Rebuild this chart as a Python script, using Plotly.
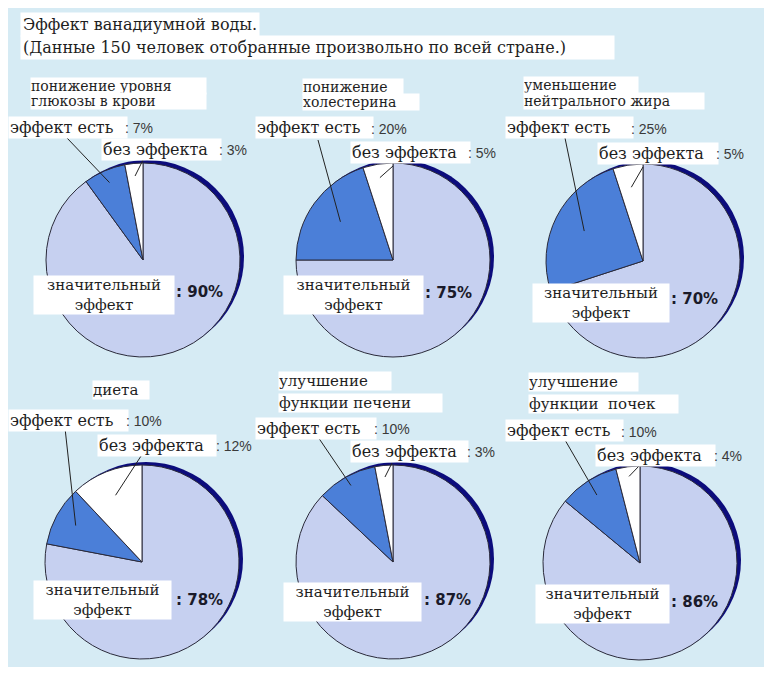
import math
import plotly.graph_objects as go

# page is photographed with the default 8px body margin -> figure starts at (8, 8)
OFF = 8
FW, FH = 764, 666

# ---------------- data ----------------
slice_names = ["значительный эффект", "эффект есть", "без эффекта"]
titles = [
    ["понижение уровня", "глюкозы в крови"],
    ["понижение", "холестерина"],
    ["уменьшение", "нейтрального жира"],
    ["диета"],
    ["улучшение", "функции печени"],
    ["улучшение", "функции  почек"],
]
significant = [90, 75, 70, 78, 87, 86]
effect = [7, 20, 25, 10, 10, 10]
no_effect = [3, 5, 5, 12, 3, 4]

main_title = "Эффект ванадиумной воды."
sub_title = "(Данные 150 человек отобранные произвольно по всей стране.)"

# ---------------- layout (page pixel positions) ----------------
R = 97
layout_px = [
    dict(c=(143, 260), tsize=14,
         title=[(30, 86, 175), (30, 101, 175)],
         eff=(8, 127, 116), effpct=(124, 128),
         noeff=(101, 149, 117), noeffpct=(218, 150),
         big=(33, 295, 140), bigpct=(175, 292),
         eff_lead=(67, 138), noeff_lead=(144, 158), eff_r=0.87, noeff_r=0.87),
    dict(c=(393, 260), tsize=14,
         title=[(302, 87, 100), (302, 102, 116)],
         eff=(255, 128, 115), effpct=(370, 129),
         noeff=(350, 152, 117), noeffpct=(467, 153),
         big=(283, 295, 139), bigpct=(424, 293),
         eff_lead=(318, 140), noeff_lead=(393, 166), eff_r=0.67, noeff_r=0.86),
    dict(c=(643, 261), tsize=14,
         title=[(523, 85, 114), (523, 101, 180)],
         eff=(505, 128, 125), effpct=(630, 129),
         noeff=(597, 153, 118), noeffpct=(715, 154),
         big=(532, 303, 136), bigpct=(670, 299),
         eff_lead=(565, 138), noeff_lead=(643, 167), eff_r=0.68, noeff_r=0.77),
    dict(c=(142, 562), tsize=15,
         title=[(92, 390, 56)],
         eff=(8, 420, 117), effpct=(125, 421),
         noeff=(97, 445, 116), noeffpct=(215, 446),
         big=(33, 600, 137), bigpct=(175, 600),
         eff_lead=(65, 428), noeff_lead=(143, 453), eff_r=0.78, noeff_r=0.74),
    dict(c=(393, 562), tsize=15,
         title=[(278, 381, 112), (278, 403, 163)],
         eff=(255, 428, 118), effpct=(373, 429),
         noeff=(350, 451, 115), noeffpct=(466, 452),
         big=(283, 602, 137), bigpct=(423, 600),
         eff_lead=(318, 437), noeff_lead=(392, 463), eff_r=0.9, noeff_r=0.88),
    dict(c=(640, 563), tsize=15,
         title=[(528, 382, 109), (528, 404, 149)],
         eff=(505, 431, 115), effpct=(620, 432),
         noeff=(595, 455, 117), noeffpct=(713, 456),
         big=(535, 604, 133), bigpct=(670, 602),
         eff_lead=(565, 440), noeff_lead=(639, 466), eff_r=0.83, noeff_r=0.9),
]

C_LIGHT = "#c6d0f0"
C_BLUE = "#4b7fd8"
C_WHITE = "#ffffff"
C_NAVY = "#0c0c7c"
C_PANEL = "#d6ebf4"
SERIF = "DejaVu Serif"
SANS = "Liberation Sans"
TXT = "#1e1e1e"


def px(x):
    return (x - OFF) / FW


def py(y):
    return 1 - (y - OFF) / FH


fig = go.Figure()
shapes = []
annotations = []

# panel background
shapes.append(dict(type="rect", xref="paper", yref="paper", layer="below",
                   x0=px(8), x1=px(766), y0=py(667), y1=py(8),
                   fillcolor=C_PANEL, line=dict(width=0)))


def label(x, y, text, size=16, font=SERIF, color=TXT, bg="white", width=None,
          xanchor="left", align="left", pad=1):
    a = dict(x=px(x), y=py(y), xref="paper", yref="paper", text=text,
             showarrow=False, xanchor=xanchor, yanchor="middle", align=align,
             font=dict(family=font, size=size, color=color),
             bgcolor=bg, borderpad=pad)
    if width is not None:
        a["width"] = width
    annotations.append(a)


for i, L in enumerate(layout_px):
    cx, cy = L["c"]
    vals = [significant[i], effect[i], no_effect[i]]
    # shadow crescent (offset navy disc behind the pie)
    dx, dy = 4, -3
    shapes.append(dict(type="circle", xref="paper", yref="paper", layer="below",
                       x0=px(cx - R + dx), x1=px(cx + R + dx),
                       y0=py(cy + R + dy), y1=py(cy - R + dy),
                       fillcolor=C_NAVY, line=dict(width=0)))
    fig.add_trace(go.Pie(
        values=vals, labels=slice_names, sort=False, direction="clockwise", rotation=0,
        marker=dict(colors=[C_LIGHT, C_BLUE, C_WHITE], line=dict(color="#2a2a3a", width=1)),
        textinfo="none", hoverinfo="label+percent", showlegend=False,
        domain=dict(x=[px(cx - R), px(cx + R)], y=[py(cy + R), py(cy - R)]),
    ))

    # leader lines pointing into slices (end point from slice mid-angle)
    total = sum(vals)
    mid_eff = vals[0] / total * 360 + vals[1] / total * 180
    mid_no = (vals[0] + vals[1]) / total * 360 + vals[2] / total * 180
    for (sx, sy), ang, rf in [(L["eff_lead"], mid_eff, L["eff_r"]),
                              (L["noeff_lead"], mid_no, L["noeff_r"])]:
        a = math.radians(ang)
        ex = cx + rf * R * math.sin(a)
        ey = cy - rf * R * math.cos(a)
        shapes.append(dict(type="line", xref="paper", yref="paper", layer="above",
                           x0=px(sx), y0=py(sy), x1=px(ex), y1=py(ey),
                           line=dict(color="#222", width=1)))

    # titles (one white box per line)
    for (tx, ty, tw), line in zip(L["title"], titles[i]):
        label(tx, ty, line, size=L["tsize"], width=tw, pad=0)

    # effect labels
    x0, y0, w0 = L["eff"]
    label(x0, y0, "эффект есть", width=w0)
    label(L["effpct"][0], L["effpct"][1], f": {effect[i]}%", size=14, font=SANS,
          color="#3a3a3a", bg="rgba(0,0,0,0)", pad=0)
    x0, y0, w0 = L["noeff"]
    label(x0, y0, "без эффекта", width=w0)
    label(L["noeffpct"][0], L["noeffpct"][1], f": {no_effect[i]}%", size=14, font=SANS,
          color="#3a3a3a", bg="rgba(0,0,0,0)", pad=0)

    # big slice label, two lines in one white box
    bx, by, bw = L["big"]
    label(bx, by, "значительный<br>эффект", size=15, width=bw, align="center", pad=0)
    bpx, bpy = L["bigpct"]
    label(bpx, bpy, f"<b>: {significant[i]}%</b>", font="DejaVu Sans", size=15,
          color="#1a1a2a", bg="rgba(0,0,0,0)", pad=0)

# main titles
label(20, 24, main_title, size=16, pad=2)
label(20, 48, sub_title, size=16, width=589, pad=2)

fig.update_layout(
    width=FW, height=FH, margin=dict(l=0, r=0, t=0, b=0),
    paper_bgcolor="white", plot_bgcolor="white",
    shapes=shapes, annotations=annotations,
)
fig.write_html("out.html")
